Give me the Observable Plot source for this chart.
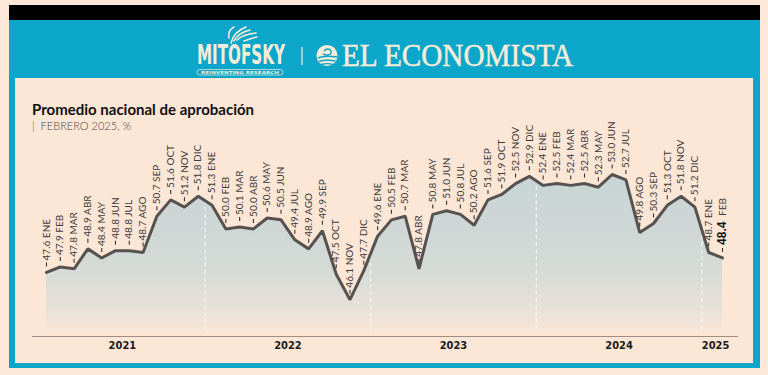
<!DOCTYPE html>
<html><head><meta charset="utf-8">
<script src="https://cdn.jsdelivr.net/npm/d3@7"></script>
<script src="https://cdn.jsdelivr.net/npm/@observablehq/plot@0.6"></script>
<style>
html,body{margin:0;padding:0;background:#fce7d8;width:768px;height:375px;overflow:hidden;font-family:Lato,sans-serif}
#frame{position:absolute;left:9px;top:5px;width:751px;height:363px;background:#0ba6c9}
#blackbar{position:absolute;left:9px;top:5px;width:751px;height:15px;background:#000}
#panel{position:absolute;left:15px;top:78px;width:738px;height:285px;background:#fce6d6}
#title{position:absolute;left:32px;top:100px;font:700 15px Lato,sans-serif;color:#111;white-space:nowrap}
#subtitle{position:absolute;left:32px;top:119px;font:300 11px Lato,sans-serif;color:#444;white-space:nowrap}
#chart{position:absolute;left:15px;top:115px}
#logo{position:absolute;left:0;top:20px}
</style></head>
<body>
<div id="frame"></div>
<div id="blackbar"></div>
<svg id="logo" width="768" height="58">
  <g fill="none" stroke="#f6ecd9" stroke-width="1.6" stroke-linecap="round">
    <path d="M231,23 C233,15 238,10 246,7"/>
    <path d="M234,21 C237,15 242,12 250,10"/>
    <path d="M237,20 C241,16 247,14 256,13"/>
    <path d="M229,18 C228,13 230,9 234,7"/>
    <path d="M244,21 C248,20 252,18 257,17"/>
  </g>
  <text x="197" y="44" font-family="'DejaVu Sans Condensed','DejaVu Sans',sans-serif" font-weight="bold" font-size="26" fill="#f6ecd9" textLength="88" lengthAdjust="spacingAndGlyphs">MITOFSKY</text>
  <rect x="197" y="49.5" width="86" height="5.5" rx="2.7" fill="none" stroke="#f6ecd9" stroke-width="0.7"/>
  <text x="240" y="54.3" text-anchor="middle" font-family="'DejaVu Sans',sans-serif" font-size="4" font-weight="bold" fill="#f6ecd9" textLength="78" lengthAdjust="spacingAndGlyphs">REINVENTING RESEARCH</text>
  <line x1="302" y1="27" x2="302" y2="45" stroke="#f6ecd9" stroke-width="1.2"/>
  <circle cx="327" cy="35.5" r="10.5" fill="#f6ecd9"/>
  <g fill="none" stroke="#0ba6c9" stroke-width="1.4">
    <path d="M318,38 C322,36 330,36 337,37"/>
    <path d="M319,41.5 C323,40 331,40 335.5,41"/>
    <path d="M321,44.5 C325,43.5 330,43.5 333,44.5"/>
    <path d="M324,31 C327,27.5 332,29 331,33 C330,36 325,35 323,34"/>
  </g>
  <text x="342" y="46" font-family="'Liberation Serif','DejaVu Serif',serif" font-size="31" fill="#f6ecd9" stroke="#f6ecd9" stroke-width="0.5" textLength="231" lengthAdjust="spacingAndGlyphs">EL ECONOMISTA</text>
</svg>
<div id="panel"></div>
<div id="title">Promedio nacional de aprobación</div>
<div id="subtitle">|&nbsp;&nbsp;FEBRERO 2025, %</div>
<div id="chart"></div>
<script>
const monthLabels = [
  "ENE","FEB","MAR","ABR","MAY","JUN","JUL","AGO","SEP","OCT","NOV","DIC",
  "ENE","FEB","MAR","ABR","MAY","JUN","JUL","AGO","SEP","OCT","NOV","DIC",
  "ENE","FEB","MAR","ABR","MAY","JUN","JUL","AGO","SEP","OCT","NOV","DIC",
  "ENE","FEB","MAR","ABR","MAY","JUN","JUL","AGO","SEP","OCT","NOV","DIC",
  "ENE","FEB"
];
const values = [
  47.6,47.9,47.8,48.9,48.4,48.8,48.8,48.7,50.7,51.6,51.2,51.8,
  51.3,50.0,50.1,50.0,50.6,50.5,49.4,48.9,49.9,47.5,46.1,47.7,
  49.6,50.5,50.7,47.8,50.8,51.0,50.8,50.2,51.6,51.9,52.5,52.9,
  52.4,52.5,52.4,52.5,52.3,53.0,52.7,49.8,50.3,51.3,51.8,51.2,
  48.7,48.4
];
const yearLabels = ["2021","2022","2023","2024","2025"];

const data = values.map((v, i) => ({i, v, m: monthLabels[i], year: yearLabels[Math.floor(i / 12)]}));
const yearData = yearLabels.map(y => ({year: y, x: d3.mean(data.filter(d => d.year === y), d => d.i)}));
const bounds = data.filter((d, k) => k > 0 && d.year !== data[k - 1].year)
  .map(d => ({x: d.i - 0.5, y: (d.v + values[d.i - 1]) / 2}));
const last = data.slice(-1);
const rest = data.slice(0, -1);
const yBase = 44.4;

const tickSymbol = {draw(ctx) { ctx.moveTo(0, -2); ctx.lineTo(0, 2); }};

const chart = Plot.plot({
  width: 738, height: 240,
  marginLeft: 31, marginRight: 31, marginTop: 59, marginBottom: 25,
  x: {domain: [0, values.length - 1], axis: null},
  y: {domain: [yBase, 53.0], axis: null},
  style: {background: "transparent", overflow: "visible"},
  marks: [
    Plot.areaY(data, {x: "i", y1: yBase, y2: "v", fill: "url(#areaGrad)"}),
    Plot.ruleX(bounds, {x: "x", y1: yBase, y2: "y", stroke: "#ffffff", strokeDasharray: "4,3", strokeOpacity: 0.85, strokeWidth: 1}),
    Plot.lineY(data, {x: "i", y: "v", stroke: "#565250", strokeWidth: 3, strokeLinejoin: "miter"}),
    Plot.dot(data, {x: "i", y: "v", dy: -8, symbol: tickSymbol, stroke: "#333", strokeWidth: 1.1, fill: "none"}),
    Plot.text(rest, {x: "i", y: "v", text: d => `${d.v.toFixed(1)} ${d.m}`, rotate: -90, textAnchor: "start", lineAnchor: "middle", dy: -12, fontSize: 10, fontFamily: "Lato, sans-serif", fill: "#3a3a3a"}),
    Plot.text(last, {x: "i", y: "v", text: d => d.v.toFixed(1), rotate: -90, textAnchor: "start", lineAnchor: "middle", dy: -13, fontSize: 12, fontWeight: "bold", fontFamily: "'Liberation Sans', Arial, sans-serif", fill: "#111"}),
    Plot.text(last, {x: "i", y: "v", text: "m", rotate: -90, textAnchor: "start", lineAnchor: "middle", dy: -42, fontSize: 10, fontFamily: "Lato, sans-serif", fill: "#3a3a3a"}),
    Plot.ruleY([yBase], {dy: 6, insetLeft: -14, insetRight: -16, stroke: "#a08d84", strokeWidth: 1}),
    Plot.text(yearData, {x: "x", text: "year", frameAnchor: "bottom", dy: 15, lineAnchor: "middle", fontSize: 11, fontWeight: "bold", fontFamily: "'Liberation Sans Narrow','DejaVu Sans Condensed',sans-serif", fill: "#1a1a1a"})
  ]
});

const svg = d3.select(chart);
const grad = svg.insert("defs", ":first-child").append("linearGradient")
  .attr("id", "areaGrad").attr("x1", 0).attr("x2", 0).attr("y1", 0).attr("y2", 1);
grad.append("stop").attr("offset", "0").attr("stop-color", "#c8d4d5");
grad.append("stop").attr("offset", "0.55").attr("stop-color", "#d3d9d6");
grad.append("stop").attr("offset", "0.85").attr("stop-color", "#e6e1d9");
grad.append("stop").attr("offset", "1").attr("stop-color", "#f8e5d7");

document.getElementById("chart").appendChild(chart);
</script>
</body></html>
